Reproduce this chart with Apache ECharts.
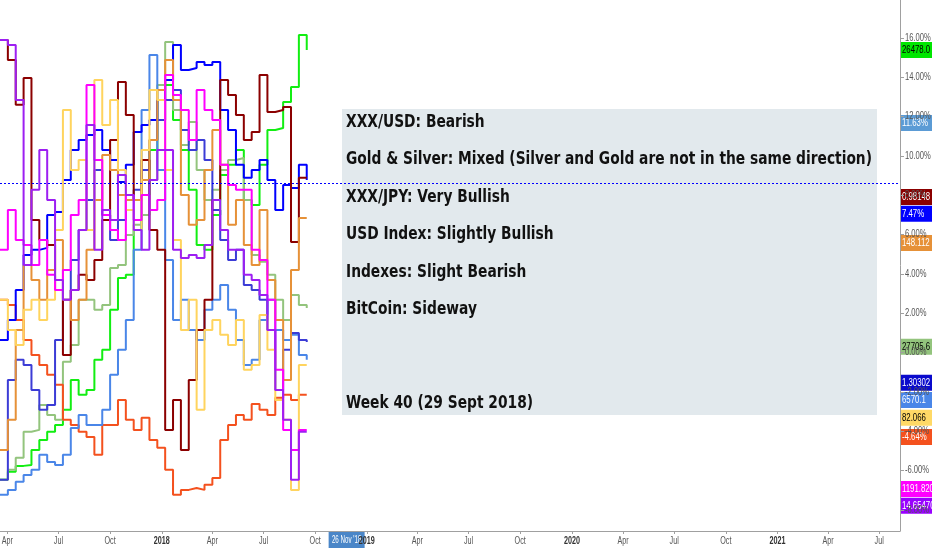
<!DOCTYPE html>
<html><head><meta charset="utf-8">
<script src="https://cdn.jsdelivr.net/npm/echarts@6/dist/echarts.min.js"></script>
<style>html,body{margin:0;padding:0;background:#fff}#c{width:932px;height:550px}</style>
</head><body><div id="c"></div>
<script>
// ---------- data (percent change) ----------
const startDate = Date.UTC(2017, 2, 19);
const stepDays = 14;
const axisMinDate = Date.UTC(2017, 2, 19);
const axisMaxDate = Date.UTC(2021, 7, 7);

const greenVals   = [-6.47,-6.06,-5.76,-5.71,-4.95,-4.44,-4.03,-3.68,-2.91,-1.39,-2.15,-1.90,-0.37,0.14,2.17,3.79,3.95,6.23,8.01,10.30,12.84,13.60,11.82,10.30,8.27,5.47,5.22,6.99,9.03,9.54,10.30,7.76,7.50,9.54,11.31,11.41,12.74,13.50,16.14,15.38];
const sageVals    = [-6.47,-5.96,-5.35,-4.03,-3.93,-2.66,-3.17,-3.42,-0.47,0.39,2.68,2.68,2.17,2.42,4.30,4.45,5.98,6.49,6.99,8.77,13.60,15.79,12.33,10.55,11.72,9.28,7.76,8.27,9.28,9.79,9.89,7.76,4.96,4.61,3.95,2.68,1.66,2.93,2.42,2.27];
const redOrgVals  = [2.68,2.42,1.66,0.64,-0.12,-0.63,-1.13,-1.64,-3.42,-3.68,-4.03,-4.29,-5.20,-3.68,-3.68,-2.41,-3.42,-3.93,-3.32,-4.44,-4.84,-5.96,-7.23,-6.98,-6.88,-6.98,-6.72,-6.37,-4.44,-3.68,-3.17,-3.42,-2.61,-2.91,-3.17,-2.30,-2.15,-2.41,-2.15,-2.15];
const btcVals     = [-7.23,-6.98,-6.57,-6.22,-5.96,-5.20,-5.56,-5.71,-5.20,-3.83,-3.17,-3.68,-3.68,-2.91,-1.13,0.14,1.66,5.22,12.33,15.13,9.28,4.71,1.66,2.68,1.15,0.64,2.17,2.68,3.44,2.17,0.64,-0.63,-0.37,1.66,2.68,1.15,0.64,0.90,-0.12,-0.37];
const blueVals    = [0.64,1.66,3.18,4.96,5.22,5.32,6.99,7.15,8.77,10.30,10.81,11.06,11.31,10.30,9.79,8.67,9.54,11.21,11.57,11.82,12.84,13.85,15.63,14.36,14.46,14.77,14.62,14.77,12.33,11.31,9.54,8.88,9.28,9.79,8.77,7.25,8.52,8.37,9.54,8.77];
const slateVals   = [-6.47,-1.39,-0.37,-0.63,-1.90,-2.91,-2.66,0.64,2.68,4.71,6.23,7.76,9.28,6.99,5.72,6.74,7.76,8.27,9.28,10.81,11.82,12.84,13.35,11.31,10.30,10.81,9.79,7.25,5.72,4.71,5.22,3.44,3.18,2.68,1.15,-1.90,0.14,1.00,0.64,0.54];
const darkRedVals = [15.89,14.87,12.59,13.96,6.74,5.72,5.47,3.18,-0.12,3.18,3.95,3.69,4.71,6.74,10.81,13.75,12.08,7.76,9.79,6.23,5.22,-3.93,-2.41,-4.95,-1.39,1.15,2.68,7.76,13.85,13.09,12.08,10.81,11.21,14.11,12.23,12.33,12.48,5.62,8.88,8.88];
const orangeVals  = [-4.95,-3.42,1.15,4.45,3.69,2.68,4.20,5.72,2.68,1.66,2.68,5.22,7.76,10.04,9.28,8.01,7.76,7.76,8.77,10.81,13.35,14.87,12.84,8.01,6.49,6.74,9.28,11.31,9.54,6.49,7.76,5.47,4.45,7.25,3.69,1.66,-1.39,4.20,6.84,6.84];
const yellowVals  = [2.68,1.15,0.39,2.17,2.68,1.66,2.68,6.23,12.33,9.28,9.79,6.23,13.85,11.57,12.84,9.28,7.25,6.23,10.30,13.35,12.84,9.28,5.72,1.15,2.68,-2.91,1.15,1.66,0.90,0.39,1.66,-0.88,-0.63,1.91,0.14,-2.41,-3.42,-6.98,-0.63,-0.63];
const magentaVals = [5.22,7.25,5.72,5.47,4.45,5.72,3.95,3.18,4.20,6.99,7.76,13.60,9.79,6.99,6.23,5.72,8.01,6.74,8.01,7.25,7.76,14.11,13.09,12.33,10.81,13.35,12.33,11.82,9.54,8.52,8.27,8.27,5.22,4.71,2.68,-0.88,-3.93,-4.95,-3.93,-3.93];
const purpleVals  = [15.89,15.63,12.84,4.45,8.27,10.30,7.76,3.69,2.68,3.18,6.23,11.57,5.22,7.25,6.74,9.03,8.01,6.23,5.22,8.77,10.30,10.30,5.22,4.81,4.96,4.81,5.47,7.76,6.23,5.22,5.22,3.95,3.69,2.93,1.15,-1.90,-3.42,-6.47,-4.03,-4.03];

const seriesNames  = ['Dow Jones','Hang Seng','Index','BitCoin','EUR/USD','GBP/USD','USD/CHF','GBP/JPY','AUD/JPY','Gold','USD/ZAR'];
const seriesColors = ['#12ee12','#93c47d','#f4511e','#4a86e8','#0000ff','#3c3cd6','#8b0000','#e69138','#ffd45e','#ff00ff','#9d1ff2'];
const seriesValues = [greenVals,sageVals,redOrgVals,btcVals,blueVals,slateVals,darkRedVals,orangeVals,yellowVals,magentaVals,purpleVals];

const yTickValues = [-8,-6,-4,-2,0,2,4,6,8,10,12,14,16];
const xTickDates  = ['2017-04-01','2017-07-01','2017-10-01','2018-01-01','2018-04-01','2018-07-01','2018-10-01','2019-01-01','2019-04-01','2019-07-01','2019-10-01','2020-01-01','2020-04-01','2020-07-01','2020-10-01','2021-01-01','2021-04-01','2021-07-01'];
const xTickLabels = ['Apr','Jul','Oct','2018','Apr','Jul','Oct','2019','Apr','Jul','Oct','2020','Apr','Jul','Oct','2021','Apr','Jul'];

const tagTexts  = ['26478.0','11.63%','0.98148','7.47%','148.112','27705.6','1.30302','6570.1','82.066','-4.64%','1191.820','14.65470'];
const tagLevels = [15.38,11.67,7.91,7.05,5.57,0.29,-1.54,-2.41,-3.32,-4.29,-6.93,-7.79];
const tagColors = ['#00e600','#5b9bd5','#8b0000','#0000ff','#e69138','#93c47d','#0a0acc','#4a86e8','#ffd966','#f4511e','#ff00ff','#9900ff'];
const tagTextColors = ['#000','#fff','#fff','#fff','#fff','#000','#fff','#fff','#000','#fff','#fff','#fff'];

const lastPriceLevel = 8.62;
const crossDate = '2018-11-26';
const crossLabel = "26 Nov '18";

const noteLines = ['XXX/USD: Bearish','Gold & Silver: Mixed (Silver and Gold are not in the same direction)','XXX/JPY: Very Bullish','USD Index: Slightly Bullish','Indexes: Slight Bearish','BitCoin: Sideway','Week 40 (29 Sept 2018)'];
const noteLineRows = [0,1,2,3,4,5,7.5];

// ---------- chart ----------
const DAY = 86400000;
const dates = greenVals.map((_, k) => startDate + k * stepDays * DAY);
const xTickTs = xTickDates.map(d => Date.parse(d));
const smallFont = '10px "Liberation Sans"';

const chart = echarts.init(document.getElementById('c'), null, {renderer: 'canvas'});

const series = seriesValues.map((vals, i) => ({
  name: seriesNames[i], type: 'line', step: 'end', symbol: 'none',
  data: vals.map((v, k) => [dates[k], v]),
  lineStyle: {color: seriesColors[i], width: 2}, itemStyle: {color: seriesColors[i]},
  z: 3, silent: true
}));
series.push({
  name: 'helper', type: 'line', data: [[dates[0], null]], symbol: 'none', z: 4,
  markLine: {
    silent: true, symbol: ['none', 'none'], animation: false,
    data: [
      {yAxis: lastPriceLevel, lineStyle: {type: [2, 2], color: '#0000ff', width: 1}, label: {show: false}}
    ]
  }
});

chart.setOption({
  animation: false,
  backgroundColor: '#ffffff',
  grid: {left: 0, right: 32, top: 0, bottom: 19, containLabel: false, outerBoundsMode: 'none'},
  xAxis: {
    type: 'value', min: axisMinDate, max: axisMaxDate, scale: true,
    axisLine: {show: true, onZero: false, lineStyle: {color: '#a0a0a0', width: 1}},
    axisTick: {show: true, length: 3, lineStyle: {color: '#a0a0a0'}, customValues: xTickTs},
    axisLabel: {show: false},
    splitLine: {show: false}
  },
  yAxis: {
    type: 'value', position: 'right', min: -9.07, max: 17.92,
    axisLine: {show: true, onZero: false, lineStyle: {color: '#a0a0a0', width: 1}},
    axisTick: {show: true, length: 4, inside: false, lineStyle: {color: '#a0a0a0'}, customValues: yTickValues},
    axisLabel: {show: false},
    splitLine: {show: false}
  },
  series: series
});

// ---------- labels and overlays placed through the axes ----------
function measure(text, font) {
  const c = document.createElement('canvas').getContext('2d');
  c.font = font; return c.measureText(text).width;
}
const gridRight = chart.convertToPixel({xAxisIndex: 0}, axisMaxDate);
const gridBottom = chart.convertToPixel({yAxisIndex: 0}, -9.07);
const graphics = [];
// y tick labels (compressed like the reference)
yTickValues.forEach(v => {
  graphics.push({type: 'text', z: 10, x: gridRight + 5, y: chart.convertToPixel({yAxisIndex: 0}, v), scaleX: 0.76,
    style: {text: v.toFixed(2) + '%', fill: '#555', font: smallFont, align: 'left', verticalAlign: 'middle'}});
});
// x tick labels
xTickTs.forEach((ts, i) => {
  const t = xTickLabels[i];
  const isYear = /^\d{4}$/.test(t);
  graphics.push({type: 'text', z: 10, x: chart.convertToPixel({xAxisIndex: 0}, ts), y: gridBottom + 10, scaleX: 0.72,
    style: {text: t, fill: isYear ? '#333' : '#555', font: (isYear ? 'bold ' : '') + smallFont, align: 'center', verticalAlign: 'middle'}});
});
// value tags on the price scale
tagLevels.forEach((lv, i) => {
  const y = chart.convertToPixel({yAxisIndex: 0}, lv);
  graphics.push({
    type: 'group', x: gridRight, y: y, z: 50,
    children: [
      {type: 'rect', shape: {x: 0, y: -8, width: 40, height: 16}, style: {fill: tagColors[i]}},
      {type: 'text', x: 2, y: 0, scaleX: 0.78,
        style: {text: tagTexts[i], fill: tagTextColors[i], font: smallFont, verticalAlign: 'middle', align: 'left'}}
    ]
  });
});
// crosshair date tag
const cx = chart.convertToPixel({xAxisIndex: 0}, Date.parse(crossDate));
graphics.push({
  type: 'group', x: cx, y: gridBottom + 9, z: 50,
  children: [
    {type: 'rect', shape: {x: -18, y: -8, width: 36, height: 16}, style: {fill: '#4a86c8'}},
    {type: 'text', x: 0, y: 0, scaleX: 0.62,
      style: {text: crossLabel, fill: '#fff', font: smallFont, align: 'center', verticalAlign: 'middle'}}
  ]
});
// note box
const noteFont = 'bold 18px "DejaVu Sans"';
const sx = 526 / measure(noteLines[1], noteFont);
graphics.push({type: 'rect', z: 1, shape: {x: 342, y: 109, width: 535, height: 306}, style: {fill: '#e2e9ed'}});
noteLines.forEach((t, i) => {
  graphics.push({type: 'text', z: 2, x: 346, y: 122 + noteLineRows[i] * 37.5, scaleX: sx,
    style: {text: t, fill: '#111', font: noteFont, verticalAlign: 'middle', align: 'left'}});
});
chart.setOption({graphic: graphics});
</script>
</body></html>
